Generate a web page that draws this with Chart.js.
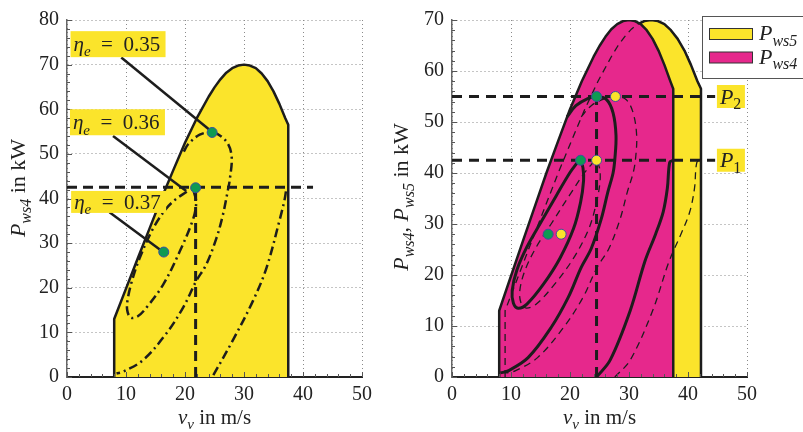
<!DOCTYPE html>
<html>
<head>
<meta charset="utf-8">
<script src="https://cdn.jsdelivr.net/npm/chart.js@4.4.0/dist/chart.umd.min.js"></script>
<style>
  body { margin: 0; background: #fff; }
  #wrap { position: relative; width: 803px; height: 432px; overflow: hidden; }
  #left-chart { position: absolute; left: 0; top: 0; }
  #right-chart { position: absolute; left: 380px; top: 0; }
</style>
</head>
<body>
<div id="wrap">
  <canvas id="left-chart" width="400" height="432"></canvas>
  <canvas id="right-chart" width="423" height="432"></canvas>
</div>
<script>
// ---- data ----
var xTicks = [0, 10, 20, 30, 40, 50];
var leftYTicks = [0, 10, 20, 30, 40, 50, 60, 70, 80];
var rightYTicks = [0, 10, 20, 30, 40, 50, 60, 70];

// P_ws4 envelope (v in m/s, P in kW)
var ws4EnvV = [8, 8, 10, 12, 14, 16, 18, 20, 22, 24, 25, 26, 27, 28, 29, 30, 31, 32, 33, 34, 35, 36, 37, 37.5, 37.5];
var ws4EnvP = [0, 13, 19.8, 26.6, 33.3, 40, 46.3, 52.5, 58, 62.8, 64.9, 66.7, 68.2, 69.2, 69.8, 70, 69.8, 69.2, 68, 66.3, 64, 61.2, 58, 56.5, 0];
// P_ws5 envelope
var ws5EnvV = [9, 9, 11.25, 13.5, 15.75, 18, 20.25, 22.5, 24.75, 27, 28.1, 29.25, 30.4, 31.5, 32.6, 33.75, 34.9, 36, 37.1, 38.25, 39.4, 40.5, 41.6, 42.2, 42.2];
var ws5EnvP = [0, 13, 19.8, 26.6, 33.3, 40, 46.3, 52.5, 58, 62.8, 64.9, 66.7, 68.2, 69.2, 69.8, 70, 69.8, 69.2, 68, 66.3, 64, 61.2, 58, 56.5, 0];

// left panel efficiency contours (dash-dot)
var eta37V = [20.3, 18.5, 16.8, 14.6, 12.3, 11.0, 10.3, 10.2, 10.8, 12.0, 13.5, 16.3, 19.1, 21.4, 21.9, 21.5];
var eta37P = [41.5, 39.9, 37.7, 33.3, 26.6, 21.5, 17.5, 15.0, 13.3, 13.6, 15.6, 20.7, 28.1, 35.5, 39.2, 41.5];
var eta36V = [19.8, 20.5, 22.5, 24.8, 27.0, 27.9, 27.6, 27.3, 26.4, 25.3, 23.6, 21.9, 19.7, 16.8, 12.9, 9.5, 8.4];
var eta36P = [50.5, 52.1, 54.3, 54.8, 52.8, 49.5, 44.3, 42.1, 36.2, 31.0, 25.2, 21.5, 15.6, 9.7, 3.8, 1.2, 0.8];
var eta35V = [24.8, 28.1, 31.5, 33.8, 36.1, 36.9, 37.2];
var eta35P = [0.4, 8.2, 17, 24.4, 35.5, 39.9, 42.5];

var etaLabels = ['0.35', '0.36', '0.37'];
var etaBoxV = [0.6, 0.5, 0.7];
var etaBoxP = [77.5, 60.0, 41.7];
var etaBoxH = [26, 26, 22];
var leaderFromV = [9.2, 7.8, 7.2];
var leaderFromP = [71.6, 54.0, 36.9];
var leaderToV = [24.5, 20.2, 16.3];
var leaderToP = [55, 41.7, 28];
var leftDotV = [24.6, 21.8, 16.4];
var leftDotP = [54.8, 42.4, 28];
var leftOpP = 42.5, leftOpV = 21.8, leftOpEndV = 41.7;

// right panel: ws4 contours (solid) and ws5 contours (thin dashed)
var s1V = [21.4, 20, 17.7, 14.9, 12.7, 11, 10.2, 10.4, 11.2, 12.7, 15.5, 18.3, 20.6, 21.8, 22.3, 22.2, 21.8];
var s1P = [42.3, 40.1, 35.6, 30, 25.5, 21, 17, 14.5, 13.5, 14.3, 18.2, 23.3, 29.1, 34.3, 38.5, 41, 42.5];
var s2V = [19.5, 21, 23, 24.5, 26.2, 27.3, 27.8, 27.6, 27.3, 26.4, 25.3, 23.6, 21.9, 19.7, 16.8, 12.9, 9.5, 8.2];
var s2P = [51, 53.2, 54.6, 55, 54.4, 51.8, 47.3, 42.7, 40, 36.2, 31, 25.2, 21.5, 15.6, 9.7, 3.8, 1.2, 0.8];
var s3V = [24.5, 26.8, 30.2, 32.7, 34.5, 35.8, 36.5, 36.9, 37.5];
var s3P = [0, 3.3, 13, 22.7, 28, 32.4, 37, 42.1, 42.5];
var d1V = [24.1, 22.5, 19.9, 16.8, 14.3, 12.4, 11.5, 11.7, 12.6, 14.3, 17.4, 20.6, 23.2, 24.5, 25.1, 25, 24.5];
var d1P = [42.3, 40.1, 35.6, 30, 25.5, 21, 17, 14.5, 13.5, 14.3, 18.2, 23.3, 29.1, 34.3, 38.5, 41, 42.5];
var d2V = [21.9, 23.6, 25.9, 27.6, 29.5, 30.7, 31.3, 31.1, 30.7, 29.7, 28.5, 26.6, 24.6, 22.2, 18.9, 14.5, 10.7, 9.2];
var d2P = [51, 53.2, 54.6, 55, 54.4, 51.8, 47.3, 42.7, 40, 36.2, 31, 25.2, 21.5, 15.6, 9.7, 3.8, 1.2, 0.8];
var d3V = [27.6, 30.2, 34, 36.8, 38.8, 40.3, 41.1, 41.5, 42.2];
var d3P = [0, 3.3, 13, 22.7, 28, 32.4, 37, 42.1, 42.5];

var opP = [42.5, 55];          // P1, P2
var opLabels = ['1', '2'];
var opEndV = 44.6;
var opLabelV = 44.9;
var opV = 24.5;
var greenV = [24.5, 21.8, 16.3];
var greenP = [55, 42.5, 28];
var yellowV = [27.7, 24.5, 18.5];
var yellowP = [55, 42.5, 28];

// ---- styles ----
var BLACK = '#1d1d1d';
var YELLOW = '#fbe42b';
var MAGENTA = '#e6288c';
var GREEN = '#0e9a52';
var DOT_EDGE = '#3c4f9f';
var SERIF = '"Liberation Serif", "Times New Roman", serif';

function pts(vs, ps) {
  return vs.map(function(v, i) { return {x: v, y: ps[i]}; });
}

function curve(vs, ps, width, dash, tension, order) {
  return {data: pts(vs, ps), borderColor: BLACK, borderWidth: width, borderDash: dash,
    tension: tension, pointRadius: 0, fill: false, order: order};
}

function area(vs, ps, color, order) {
  return {data: pts(vs, ps), borderColor: BLACK, borderWidth: 2.5, backgroundColor: color,
    fill: 'origin', tension: 0, pointRadius: 0, order: order, borderJoinStyle: 'round'};
}

function dots(vs, ps, color, order) {
  return {data: pts(vs, ps), showLine: false, pointRadius: 5, pointBackgroundColor: color,
    pointBorderColor: DOT_EDGE, pointBorderWidth: 1, order: order};
}

// text with italic / subscript runs: 'i' italic, 's' italic subscript, 'r' upright subscript
function mathRuns(ctx, parts, size) {
  return parts.map(function(p) {
    var sub = p[1] == 's' || p[1] == 'r';
    var italic = p[1] == 'i' || p[1] == 's';
    var fs = sub ? Math.round(size * 0.72) : size;
    var font = (italic ? 'italic ' : '') + fs + 'px ' + SERIF;
    ctx.font = font;
    return {t: p[0], font: font, dy: sub ? size * 0.25 : 0, w: ctx.measureText(p[0]).width};
  });
}

function drawMath(ctx, parts, x, y, size, align) {
  var runs = mathRuns(ctx, parts, size);
  var total = 0;
  runs.forEach(function(r) { total += r.w; });
  if (align == 'center') x -= total / 2;
  ctx.textAlign = 'left';
  ctx.textBaseline = 'alphabetic';
  runs.forEach(function(r) {
    ctx.font = r.font;
    ctx.fillText(r.t, x, y + r.dy);
    x += r.w;
  });
}

function drawYTitle(ctx, parts, x, y, size) {
  ctx.save();
  ctx.translate(x, y);
  ctx.rotate(-Math.PI / 2);
  ctx.fillStyle = '#222';
  drawMath(ctx, parts, 0, 0, size, 'center');
  ctx.restore();
}

function minorTicks(chart, yMax) {
  var ctx = chart.ctx, xs = chart.scales.x, ys = chart.scales.y, a = chart.chartArea;
  ctx.save();
  ctx.strokeStyle = '#555';
  ctx.lineWidth = 1;
  ctx.beginPath();
  for (var v = 0; v <= 50; v += 2) {
    var px = Math.round(xs.getPixelForValue(v)) + 0.5;
    var len = v % 10 == 0 ? 5 : 3;
    ctx.moveTo(px, a.bottom);
    ctx.lineTo(px, a.bottom - len);
  }
  for (var p = 0; p <= yMax; p += 2) {
    var py = Math.round(ys.getPixelForValue(p)) + 0.5;
    var l2 = p % 10 == 0 ? 5 : 3;
    ctx.moveTo(a.left, py);
    ctx.lineTo(a.left + l2, py);
  }
  ctx.stroke();
  ctx.restore();
}

function makeOptions(yMax, yTicks, yWidth, padRight) {
  var tickFont = {family: SERIF, size: 20};
  return {
    responsive: false,
    animation: false,
    layout: {padding: {top: 16, right: padRight, left: 0, bottom: 0}},
    plugins: {legend: {display: false}, tooltip: {enabled: false}},
    scales: {
      x: {
        type: 'linear', min: 0, max: 50,
        afterBuildTicks: function(s) { s.ticks = xTicks.map(function(v) { return {value: v}; }); },
        afterFit: function(s) { s.height = 55; },
        ticks: {font: tickFont, color: '#222', padding: 6, maxRotation: 0},
        grid: {color: '#8a8a8a', lineWidth: 1, drawTicks: false},
        border: {display: true, color: '#222', width: 2, dash: [1, 3]}
      },
      y: {
        type: 'linear', min: 0, max: yMax,
        afterBuildTicks: function(s) { s.ticks = yTicks.map(function(v) { return {value: v}; }); },
        afterFit: function(s) { s.width = yWidth; },
        ticks: {font: tickFont, color: '#222', padding: 8},
        grid: {color: '#8a8a8a', lineWidth: 1, drawTicks: false},
        border: {display: true, color: '#666', width: 1.5, dash: [1, 3]}
      }
    }
  };
}

// ---- left panel ----
var leftDatasets = [
  dots(leftDotV, leftDotP, GREEN, 0),
  curve([leaderFromV[0], leaderToV[0]], [leaderFromP[0], leaderToP[0]], 2.5, [], 0, 1),
  curve([leaderFromV[1], leaderToV[1]], [leaderFromP[1], leaderToP[1]], 2.5, [], 0, 1),
  curve([leaderFromV[2], leaderToV[2]], [leaderFromP[2], leaderToP[2]], 2.5, [], 0, 1),
  curve([0, leftOpEndV], [leftOpP, leftOpP], 3, [10, 6], 0, 2),
  curve([leftOpV, leftOpV], [0, leftOpP], 3, [10, 6], 0, 2),
  curve(eta37V, eta37P, 2.5, [9, 4, 2, 4], 0.35, 3),
  curve(eta36V, eta36P, 2.5, [9, 4, 2, 4], 0.35, 3),
  curve(eta35V, eta35P, 2.5, [9, 4, 2, 4], 0.35, 3),
  area(ws4EnvV, ws4EnvP, YELLOW, 10)
];

var leftDecor = {
  id: 'leftDecor',
  afterDatasetsDraw: function(chart) {
    var ctx = chart.ctx, xs = chart.scales.x, ys = chart.scales.y, a = chart.chartArea;
    minorTicks(chart, 80);
    for (var i = 0; i < etaLabels.length; i++) {
      var bx = xs.getPixelForValue(etaBoxV[i]);
      var by = ys.getPixelForValue(etaBoxP[i]);
      ctx.fillStyle = YELLOW;
      ctx.fillRect(bx, by, 95, etaBoxH[i]);
      ctx.fillStyle = '#222';
      drawMath(ctx, [['\u03b7', 'i'], ['e', 's'], ['\u2002=\u2002' + etaLabels[i], 'n']],
        bx + 3, by + etaBoxH[i] / 2 + 7, 21, 'left');
    }
    ctx.fillStyle = '#222';
    drawMath(ctx, [['v', 'i'], ['v', 's'], [' in m/s', 'n']], (a.left + a.right) / 2, 424, 21, 'center');
    drawYTitle(ctx, [['P', 'i'], ['ws4', 's'], [' in kW', 'n']], 25, 188, 22);
  }
};

new Chart(document.getElementById('left-chart'), {
  type: 'line',
  data: {datasets: leftDatasets},
  options: makeOptions(80, leftYTicks, 67, 38),
  plugins: [leftDecor]
});

// ---- right panel ----
var rightDatasets = [
  dots(greenV, greenP, GREEN, 0),
  dots(yellowV, yellowP, YELLOW, 0),
  curve([0, opEndV], [opP[0], opP[0]], 3, [10, 7], 0, 1),
  curve([0, opEndV], [opP[1], opP[1]], 3, [10, 7], 0, 1),
  curve([opV, opV], [0, opP[1]], 3, [10, 7], 0, 1),
  curve(d1V, d1P, 1.3, [7, 5], 0.35, 2),
  curve(d2V, d2P, 1.3, [7, 5], 0.35, 2),
  curve(d3V, d3P, 1.3, [7, 5], 0.35, 2),
  curve(ws5EnvV, ws5EnvP, 1.3, [7, 5], 0, 2),
  curve(s1V, s1P, 3, [], 0.35, 3),
  curve(s2V, s2P, 3, [], 0.35, 3),
  curve(s3V, s3P, 3, [], 0.35, 3),
  area(ws4EnvV, ws4EnvP, MAGENTA, 9),
  area(ws5EnvV, ws5EnvP, YELLOW, 10)
];

var rightDecor = {
  id: 'rightDecor',
  afterDatasetsDraw: function(chart) {
    var ctx = chart.ctx, xs = chart.scales.x, ys = chart.scales.y, a = chart.chartArea;
    minorTicks(chart, 70);
    // P1 / P2 labels
    for (var i = 0; i < opP.length; i++) {
      var bx = xs.getPixelForValue(opLabelV);
      var cy = ys.getPixelForValue(opP[i]);
      ctx.fillStyle = YELLOW;
      ctx.fillRect(bx, cy - 11.5, 28, 23);
      ctx.fillStyle = '#222';
      drawMath(ctx, [['P', 'i'], [opLabels[i], 'r']], bx + 3, cy + 7, 22, 'left');
    }
    // legend box, runs past the right edge as in the figure
    var lx = a.right - 45;
    ctx.save();
    ctx.fillStyle = '#fff';
    ctx.strokeStyle = '#555';
    ctx.lineWidth = 1;
    ctx.fillRect(lx + 0.5, 16.5, 110, 62);
    ctx.strokeRect(lx + 0.5, 16.5, 110, 62);
    var items = [[YELLOW, 'ws5', 28], [MAGENTA, 'ws4', 51.5]];
    items.forEach(function(it) {
      ctx.fillStyle = it[0];
      ctx.fillRect(lx + 7.5, it[2] + 0.5, 43, 11);
      ctx.strokeStyle = '#333';
      ctx.strokeRect(lx + 7.5, it[2] + 0.5, 43, 11);
      ctx.fillStyle = '#222';
      drawMath(ctx, [['P', 'i'], [it[1], 's']], lx + 57, it[2] + 12, 22, 'left');
    });
    ctx.restore();
    ctx.fillStyle = '#222';
    drawMath(ctx, [['v', 'i'], ['v', 's'], [' in m/s', 'n']], (a.left + a.right) / 2, 424, 21, 'center');
    drawYTitle(ctx, [['P', 'i'], ['ws4', 's'], [', ', 'n'], ['P', 'i'], ['ws5', 's'], [' in kW', 'n']], 28, 197, 22);
  }
};

new Chart(document.getElementById('right-chart'), {
  type: 'line',
  data: {datasets: rightDatasets},
  options: makeOptions(70, rightYTicks, 72, 56),
  plugins: [rightDecor]
});
</script>
</body>
</html>
